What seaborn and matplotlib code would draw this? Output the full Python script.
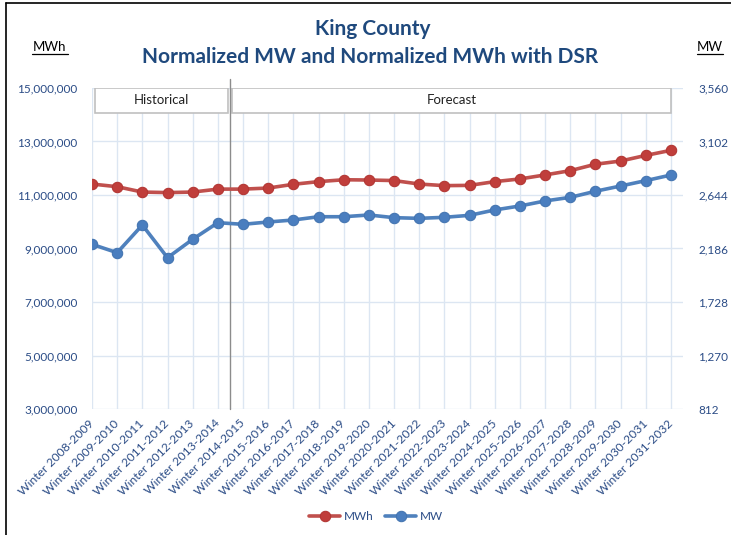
import numpy as np
import pandas as pd
import matplotlib
matplotlib.use("Agg")
import matplotlib.pyplot as plt
from matplotlib.patches import Rectangle
from matplotlib.ticker import FuncFormatter
import seaborn as sns

# data
seasons = ["Winter %d-%d" % (y, y + 1) for y in range(2008, 2032)]
mwh = [11410000, 11310000, 11110000, 11090000, 11110000, 11220000,
       11220000, 11260000, 11400000, 11500000, 11570000, 11560000,
       11540000, 11410000, 11350000, 11360000, 11500000, 11600000,
       11750000, 11910000, 12150000, 12270000, 12480000, 12670000]
mw = [2222, 2150, 2387, 2107, 2265, 2407, 2393, 2413, 2430, 2458, 2458, 2473,
      2450, 2444, 2453, 2470, 2516, 2550, 2593, 2624, 2676, 2721, 2767, 2815]
mwh_ticks = [3000000, 5000000, 7000000, 9000000, 11000000, 13000000, 15000000]
mw_ticks = [812, 1270, 1728, 2186, 2644, 3102, 3560]

df = pd.DataFrame({"idx": range(len(seasons)), "season": seasons, "MWh": mwh, "MW": mw})

sns.set_style("white")
plt.rcParams["font.family"] = ["Lato", "DejaVu Sans"]

title_col = "#1F497D"
tick_col = "#2B4C86"
grid_col = "#DCE6F2"
red = "#C0504D"
blue = "#4F81BD"

fig = plt.figure(figsize=(7.31, 5.35), dpi=100)
ax = fig.add_axes([92 / 731, 1 - 409 / 535, (683 - 92) / 731, (409 - 88) / 535])
ax2 = ax.twinx()

sns.lineplot(data=df, x="idx", y="MWh", ax=ax, color=red, linewidth=2.6,
             marker="o", markersize=7.5, markerfacecolor="#C03E3B",
             markeredgecolor="#B23532", label="MWh", legend=False, zorder=5)
sns.lineplot(data=df, x="idx", y="MW", ax=ax2, color=blue, linewidth=2.6,
             marker="o", markersize=7.5, markerfacecolor="#4A7EBF",
             markeredgecolor="#4374B0", label="MW", legend=False, zorder=5)

ax.set_xlim(0, 23.48)
ax.set_ylim(3000000, 15000000)
ax2.set_ylim(812, 3560)
ax.set_yticks(mwh_ticks)
ax2.set_yticks(mw_ticks)
ax.yaxis.set_major_formatter(FuncFormatter(lambda v, p: "{:,.0f}".format(v)))
ax2.yaxis.set_major_formatter(FuncFormatter(lambda v, p: "{:,.0f}".format(v)))
ax.set_xticks(df["idx"])
ax.set_xticklabels(seasons, rotation=45, ha="right", va="center",
                   rotation_mode="anchor", color=tick_col, fontsize=8.7)
ax.tick_params(axis="x", length=0, pad=9)
ax.tick_params(axis="y", length=0, pad=10.5, labelcolor=tick_col, labelsize=8.5)
ax2.tick_params(axis="y", length=0, pad=11, labelcolor=tick_col, labelsize=8.5)
ax.set_xlabel("")
ax.set_ylabel("")
ax2.set_ylabel("")

ax.grid(True, color=grid_col, linewidth=1)
ax.set_axisbelow(True)
for a in (ax, ax2):
    for s in a.spines.values():
        s.set_visible(False)

# historical / forecast split
ax.axvline(5.5, ymin=0, ymax=1.028, color="#8C8C8C", linewidth=1, clip_on=False, zorder=3)
box_top = 15000000
box_h = 25 / 26.75 * 1000000
ax.add_patch(Rectangle((0.12, box_top - box_h), 5.30, box_h, facecolor="white",
                       edgecolor="#C0C0C0", linewidth=1.2, zorder=2))
ax.add_patch(Rectangle((5.58, box_top - box_h), 17.42, box_h, facecolor="white",
                       edgecolor="#C0C0C0", linewidth=1.2, zorder=2))
ax.text(2.77, box_top - box_h / 2, "Historical", ha="center", va="center",
        fontsize=9.5, color="#222222", zorder=3)
ax.text(14.29, box_top - box_h / 2, "Forecast", ha="center", va="center",
        fontsize=9.5, color="#222222", zorder=3)

fig.text(373 / 731, 1 - 29 / 535, "King County", ha="center", va="center",
         fontsize=15, fontweight="bold", color=title_col)
fig.text(370 / 731, 1 - 57 / 535, "Normalized MW and Normalized MWh with DSR",
         ha="center", va="center", fontsize=15, fontweight="bold", color=title_col)

# underlined unit labels
fig.text(50 / 731, 1 - 47 / 535, "MWh", ha="center", va="center", fontsize=9.5, color="black")
fig.lines.append(plt.Line2D([32 / 731, 68 / 731], [1 - 54 / 535, 1 - 54 / 535],
                            transform=fig.transFigure, color="black", linewidth=0.9))
fig.text(710 / 731, 1 - 47 / 535, "MW", ha="center", va="center", fontsize=9.5, color="black")
fig.lines.append(plt.Line2D([697 / 731, 723 / 731], [1 - 54 / 535, 1 - 54 / 535],
                            transform=fig.transFigure, color="black", linewidth=0.9))

# chart border (left and top edges visible)
fig.lines.append(plt.Line2D([6 / 731, 6 / 731], [0, 1 - 3 / 535],
                            transform=fig.transFigure, color="black", linewidth=1.2))
fig.lines.append(plt.Line2D([6 / 731, 1], [1 - 3 / 535, 1 - 3 / 535],
                            transform=fig.transFigure, color="black", linewidth=1.2))

h1, l1 = ax.get_legend_handles_labels()
h2, l2 = ax2.get_legend_handles_labels()
fig.legend(h1 + h2, l1 + l2, loc="center", bbox_to_anchor=(376 / 731, 1 - 517 / 535),
           ncol=2, frameon=False, fontsize=8.5, handlelength=2.6, columnspacing=1.0,
           handletextpad=0.3, labelcolor=tick_col)

fig.savefig("out.png", dpi=100)
